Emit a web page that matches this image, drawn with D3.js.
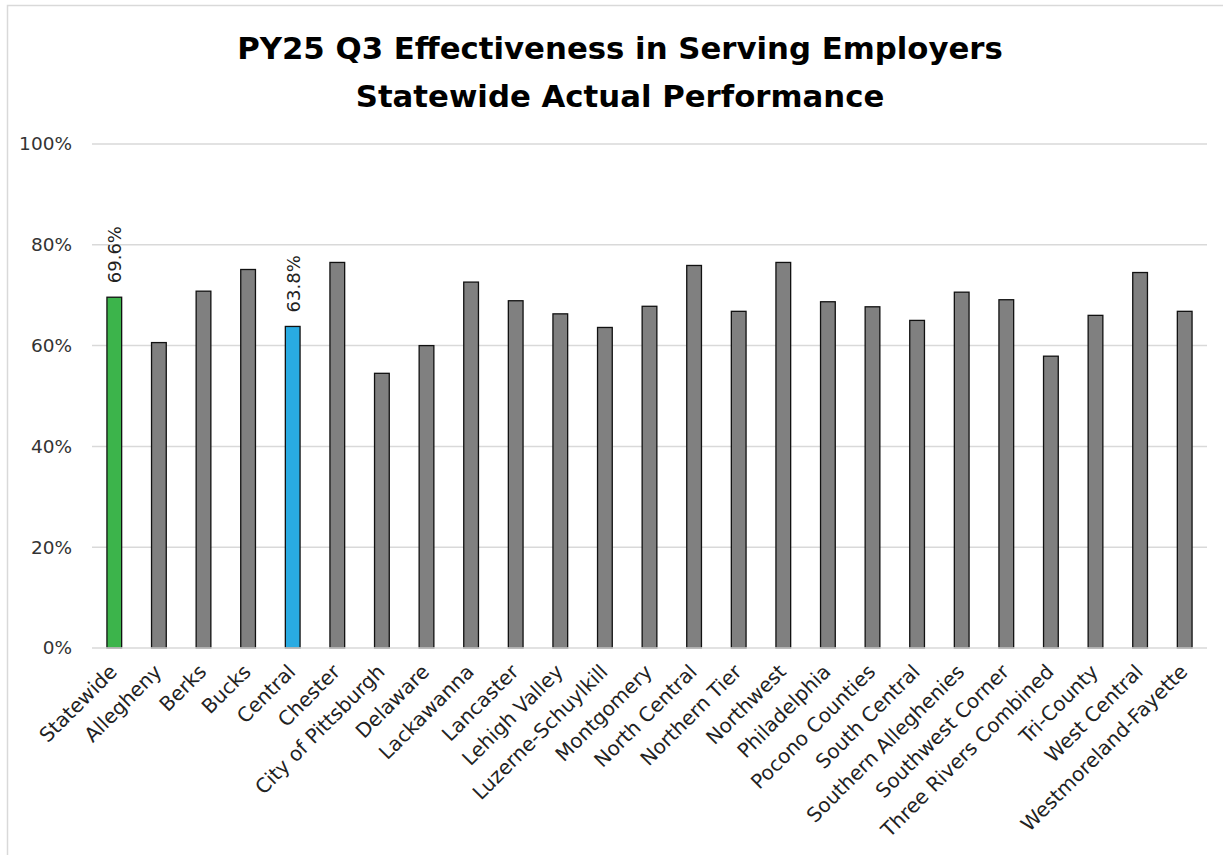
<!DOCTYPE html>
<html>
<head>
<meta charset="utf-8">
<script src="https://cdn.jsdelivr.net/npm/d3@7"></script>
<style>
  html, body { margin: 0; padding: 0; background: #fff; }
  svg { display: block; }
  text { font-family: "Century Gothic", "DejaVu Sans", sans-serif; }
</style>
</head>
<body>
<svg id="chart" width="1223" height="855"></svg>
<script>
const titleLines = ["PY25 Q3 Effectiveness in Serving Employers", "Statewide Actual Performance"];
const categories = ["Statewide", "Allegheny", "Berks", "Bucks", "Central", "Chester", "City of Pittsburgh",
  "Delaware", "Lackawanna", "Lancaster", "Lehigh Valley", "Luzerne-Schuylkill", "Montgomery",
  "North Central", "Northern Tier", "Northwest", "Philadelphia", "Pocono Counties", "South Central",
  "Southern Alleghenies", "Southwest Corner", "Three Rivers Combined", "Tri-County", "West Central",
  "Westmoreland-Fayette"];
const values = [69.6, 60.6, 70.8, 75.1, 63.8, 76.5, 54.5, 60.0, 72.6, 68.9, 66.3, 63.6, 67.8,
  75.9, 66.8, 76.5, 68.7, 67.7, 65.0, 70.6, 69.1, 57.9, 66.0, 74.5, 66.8];
const labeled = ["Statewide", "Central"];
const yTicks = [0, 20, 40, 60, 80, 100];
const colorMap = { "Statewide": "#3cb44b", "Central": "#29abe2" };
const defaultColor = "#808080";

const data = categories.map((c, i) => ({ cat: c, val: values[i] }));

const svg = d3.select("#chart");
const W = 1223, H = 855;
const plot = { left: 92, right: 1207, top: 144, bottom: 648 };
const FONT = '"Century Gothic", "DejaVu Sans", sans-serif';

// outer chart border
svg.append("rect").attr("x", 7.5).attr("y", 5.5).attr("width", W + 20).attr("height", H + 20)
  .attr("fill", "none").attr("stroke", "#d9d9d9").attr("stroke-width", 1.5);

const x = d3.scaleBand().domain(categories).range([plot.left, plot.right]).paddingInner(0.67).paddingOuter(0.335);
const y = d3.scaleLinear().domain([0, 100]).range([plot.bottom, plot.top]);

// gridlines
svg.append("g").selectAll("line").data(yTicks.filter(t => t > 0)).join("line")
  .attr("x1", plot.left).attr("x2", plot.right)
  .attr("y1", d => y(d)).attr("y2", d => y(d))
  .attr("stroke", "#d9d9d9").attr("stroke-width", 1.5);

// y axis labels
const yAxis = d3.axisLeft(y).tickValues(yTicks).tickFormat(d => d + "%").tickSize(0).tickPadding(20);
const ya = svg.append("g").attr("transform", `translate(${plot.left},0)`).call(yAxis);
ya.select(".domain").remove();
ya.selectAll("text").attr("font-size", 18.5).attr("fill", "#333").style("font-family", FONT);

// bars
svg.append("g").selectAll("rect").data(data).join("rect")
  .attr("x", d => x(d.cat)).attr("width", x.bandwidth())
  .attr("y", d => y(d.val)).attr("height", d => y(0) - y(d.val))
  .attr("fill", d => colorMap[d.cat] || defaultColor)
  .attr("stroke", "#111").attr("stroke-width", 1.3);

// baseline axis
const xAxis = d3.axisBottom(x).tickSize(0).tickPadding(0);
const xa = svg.append("g").attr("transform", `translate(0,${plot.bottom})`).call(xAxis);
xa.select(".domain").attr("stroke", "#d9d9d9").attr("stroke-width", 1.5)
  .attr("d", `M${plot.left},0H${plot.right}`);
xa.selectAll(".tick text")
  .attr("font-size", 20).attr("fill", "#222").style("font-family", FONT)
  .attr("text-anchor", "end").attr("dy", null).attr("y", 0)
  .attr("transform", "translate(4,25) rotate(-45)");

// data labels
svg.append("g").selectAll("text").data(data.filter(d => labeled.includes(d.cat))).join("text")
  .attr("transform", d => `translate(${x(d.cat) + x.bandwidth() / 2 + 7},${y(d.val) - 14}) rotate(-90)`)
  .attr("font-size", 18).attr("fill", "#222").style("font-family", FONT)
  .text(d => d.val.toFixed(1) + "%");

// title
const tg = svg.append("g");
const t1 = tg.append("text").attr("x", 620).attr("y", 59).attr("text-anchor", "middle")
  .attr("font-weight", "bold").attr("font-size", 30).attr("fill", "#000").text(titleLines[0]);
const w1 = t1.node().getComputedTextLength();
const fs = 30 * 766 / w1;
t1.attr("font-size", fs);
tg.append("text").attr("x", 620).attr("y", 107).attr("text-anchor", "middle")
  .attr("font-weight", "bold").attr("font-size", fs).attr("fill", "#000").text(titleLines[1]);
</script>
</body>
</html>
